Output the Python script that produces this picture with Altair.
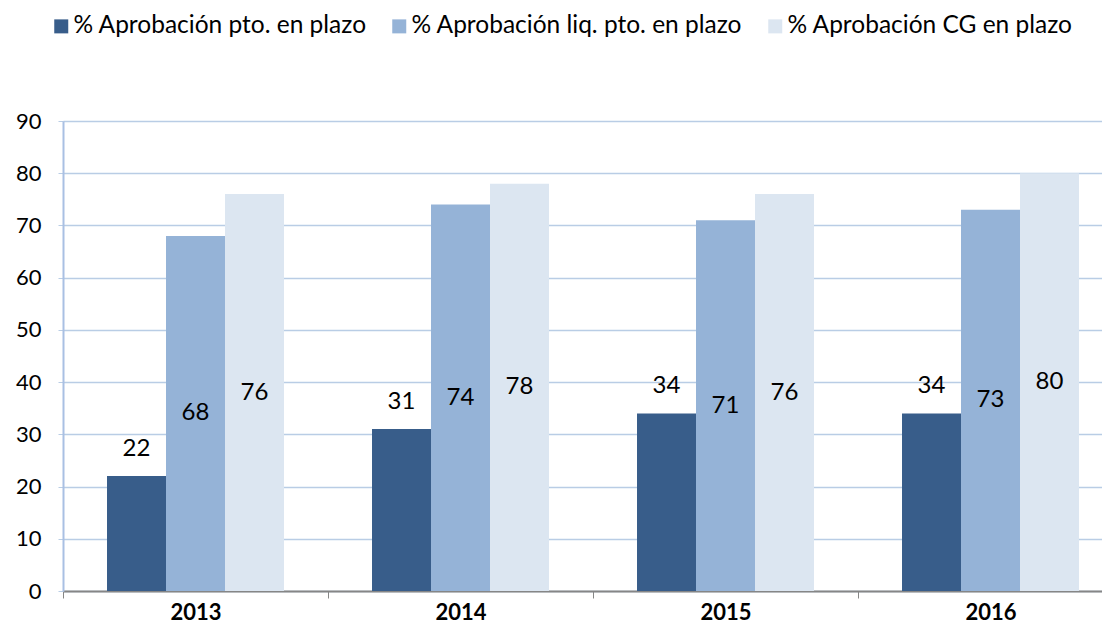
import altair as alt
import pandas as pd

years = ["2013", "2014", "2015", "2016"]
series = ["% Aprobación pto. en plazo", "% Aprobación liq. pto. en plazo", "% Aprobación CG en plazo"]
s1 = [22, 31, 34, 34]
s2 = [68, 74, 71, 73]
s3 = [76, 78, 76, 80]
colors = ["#385D8A", "#95B3D7", "#DCE6F1"]
y_ticks = [0, 10, 20, 30, 40, 50, 60, 70, 80, 90]

rows = []
for vals, name in zip([s1, s2, s3], series):
    for yr, v in zip(years, vals):
        rows.append({"year": yr, "serie": name, "v": v})
df = pd.DataFrame(rows)

FONT = "Lato"

x_enc = alt.X("year:N", sort=years, title=None,
              scale=alt.Scale(paddingInner=0, paddingOuter=0),
              axis=alt.Axis(labelAngle=0, labelFontWeight="bold", labelFontSize=22,
                            labelColor="#000000", labelFont=FONT,
                            domainColor="#868686", domainWidth=2,
                            tickColor="#868686", tickSize=7, tickBand="extent",
                            labelPadding=4, grid=False))
xoff = alt.XOffset("serie:N", sort=series,
                   scale=alt.Scale(domain=series, paddingInner=0, paddingOuter=0.746))

base = alt.Chart(df)

bars = base.mark_bar().encode(
    x=x_enc,
    xOffset=xoff,
    y=alt.Y("v:Q", title=None,
            scale=alt.Scale(domain=[0, 90], nice=False),
            axis=alt.Axis(values=y_ticks, labelFontSize=22, labelColor="#000000",
                          labelFont=FONT, domainColor="#A9C0E3", domainWidth=2,
                          gridColor="#B9CDE5", gridWidth=1.5, tickColor="#B9CDE5",
                          tickSize=5, labelPadding=17)),
    color=alt.Color("serie:N", sort=series,
                    scale=alt.Scale(domain=series, range=colors),
                    legend=alt.Legend(title=None, orient="none", direction="horizontal",
                                      legendX=-14, legendY=-107, columns=3, padding=0,
                                      symbolType="square", symbolSize=196,
                                      symbolStrokeWidth=0, labelFontSize=24.5,
                                      labelFont=FONT, labelColor="#000000",
                                      labelLimit=600,
                                      labelOffset=0, columnPadding=20)),
)

labels1 = base.transform_filter(alt.datum.serie == series[0]).mark_text(
    fontSize=24, font=FONT, color="#000000", baseline="middle", dy=-27
).encode(x=alt.X("year:N", sort=years), xOffset=xoff, y="v:Q", text="v:Q")

labels2 = base.transform_filter(alt.datum.serie != series[0]).transform_calculate(
    mid="datum.v / 2"
).mark_text(
    fontSize=24, font=FONT, color="#000000", baseline="middle"
).encode(x=alt.X("year:N", sort=years), xOffset=xoff, y="mid:Q", text="v:Q")

chart = alt.layer(bars, labels1, labels2).properties(
    width=1060, height=470,
    autosize=alt.AutoSizeParams(type="none"),
    padding={"left": 55, "top": 113, "right": -21, "bottom": 34},
).configure_view(stroke=None).configure(font=FONT)

chart.save("out.html", embed_options={"renderer": "svg", "actions": False})
